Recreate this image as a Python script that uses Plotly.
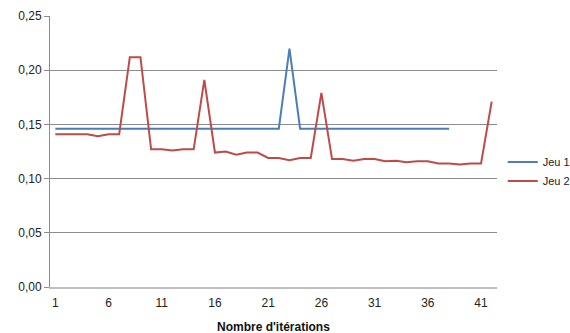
import plotly.graph_objects as go

iterations = [str(i) for i in range(1, 43)]
jeu1 = [0.146] * 22 + [0.22] + [0.146] * 15
jeu2 = [0.141, 0.141, 0.141, 0.141, 0.139, 0.141, 0.141, 0.212, 0.212, 0.127,
        0.127, 0.126, 0.127, 0.127, 0.191, 0.124, 0.125, 0.122, 0.124, 0.124,
        0.119, 0.119, 0.117, 0.119, 0.119, 0.179, 0.118, 0.118, 0.1165, 0.118,
        0.118, 0.116, 0.1165, 0.115, 0.116, 0.116, 0.114, 0.114, 0.113, 0.114,
        0.114, 0.171]
x_ticks = ["1", "6", "11", "16", "21", "26", "31", "36", "41"]
y_ticks = [0, 0.05, 0.10, 0.15, 0.20, 0.25]

fig = go.Figure()
fig.add_trace(go.Scatter(x=iterations[:len(jeu1)], y=jeu1, mode="lines", name="Jeu 1",
                         line=dict(color="#4a7ebb", width=2)))
fig.add_trace(go.Scatter(x=iterations, y=jeu2, mode="lines", name="Jeu 2",
                         line=dict(color="#be4b48", width=2)))

fig.update_layout(
    width=570, height=333,
    margin=dict(l=50, r=73, t=16, b=46, autoexpand=False),
    paper_bgcolor="white", plot_bgcolor="white",
    separators=", ",
    font=dict(family="Liberation Sans, Arial, sans-serif", size=12, color="#222"),
    showlegend=True,
    legend=dict(xref="container", yref="container", x=0.882, y=0.485,
                xanchor="left", yanchor="middle",
                font=dict(size=11, color="#222"), itemwidth=30,
                tracegroupgap=0, bgcolor="rgba(0,0,0,0)"),
    xaxis=dict(type="category", categoryorder="array", categoryarray=iterations,
               range=[-0.5, 41.5], tickmode="array", tickvals=x_ticks, ticktext=x_ticks,
               showgrid=False, showline=True, linecolor="#bfbfbf", linewidth=2,
               ticks="", ticklabelstandoff=4, tickfont=dict(size=12, color="#222")),
    yaxis=dict(range=[0, 0.25], tickvals=y_ticks, tickformat=".2f",
               showgrid=True, gridcolor="#8c8c8c", gridwidth=1,
               showline=True, linecolor="#8c8c8c", linewidth=1,
               ticks="outside", ticklen=5, tickcolor="#8c8c8c",
               zeroline=False, tickfont=dict(size=12, color="#222")),
    annotations=[dict(text="<b>Nombre d'itérations</b>", x=0.5, y=-0.1476,
                      xref="paper", yref="paper", xanchor="center", yanchor="middle",
                      showarrow=False, font=dict(size=12, color="#111"))],
)

fig.write_html("out.html", config={"displayModeBar": False},
               post_script="document.body.style.margin='0';")
